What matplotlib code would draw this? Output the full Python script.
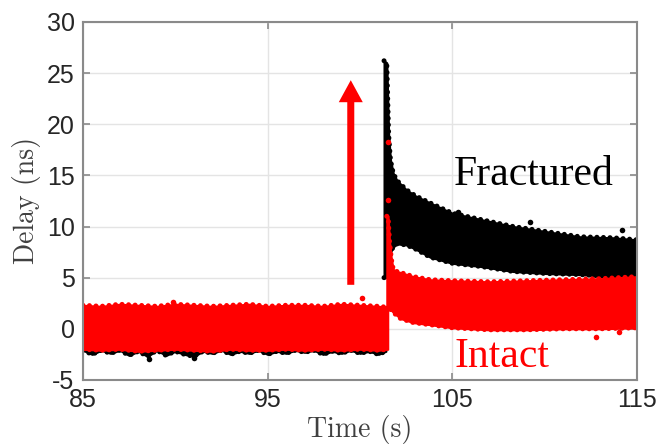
import matplotlib
matplotlib.use("Agg")
import matplotlib.pyplot as plt

# ---- data ----
# before the fracture: both signals are noise bands around 0
t_pre = [85.0, 86, 87, 88, 89, 90, 91, 92, 93, 94, 95, 96, 97, 98, 99, 100, 101, 101.5]
red_pre_hi = [2.3, 2.2, 2.4, 2.3, 2.2, 2.4, 2.3, 2.2, 2.3, 2.4, 2.2, 2.3, 2.3, 2.2, 2.4, 2.3, 2.2, 2.1]
red_pre_lo = [-2.0, -2.1, -2.0, -2.2, -2.1, -2.0, -2.1, -2.2, -2.0, -2.1, -2.1, -2.0, -2.1, -2.0, -2.1, -2.0, -2.1, -2.0]

t_blk_pre = [85.0, 85.5, 86.0, 86.5, 87.0, 87.5, 88.0, 88.5, 89.0, 89.5, 90.0, 90.5, 91.0, 91.5, 92.0,
             92.5, 93.0, 93.5, 94.0, 94.5, 95.0, 95.5, 96.0, 96.5, 97.0, 97.5, 98.0, 98.5, 99.0,
             99.5, 100.0, 100.5, 101.0, 101.4]
blk_pre_hi = [1.9] * 34
blk_pre_lo = [-2.1, -2.5, -2.1, -2.4, -2.1, -2.6, -2.2, -2.7, -2.1, -2.6, -2.2, -2.5, -2.7, -2.2, -2.4,
              -2.1, -2.5, -2.2, -2.4, -2.1, -2.5, -2.2, -2.4, -2.1, -2.3, -2.1, -2.5, -2.2, -2.4,
              -2.1, -2.4, -2.2, -2.5, -2.2]

# fractured (black) after the event
t_blk = [101.30, 101.45, 101.55, 101.65, 101.8, 102.0, 102.5, 103.0, 103.8, 105.0, 106.5, 108.3, 110.1, 111.9, 113.7, 115.0]
blk_hi = [26.2, 26.0, 19.0, 16.5, 15.2, 14.5, 13.6, 13.0, 12.3, 11.3, 10.7, 10.0, 9.5, 9.0, 8.9, 8.7]
blk_lo = [5.0, 5.0, 6.0, 7.5, 8.0, 8.3, 8.2, 7.8, 7.0, 6.4, 6.1, 5.6, 5.4, 5.3, 5.1, 5.1]

# intact (red) after the event
t_red = [101.45, 101.52, 101.6, 101.7, 101.8, 102.0, 102.2, 102.9, 103.8, 105, 107, 109, 111, 113, 115]
red_hi = [11.0, 11.0, 8.5, 6.8, 5.8, 5.6, 5.5, 5.1, 4.8, 4.7, 4.6, 4.7, 4.8, 4.9, 5.1]
red_lo = [2.0, 2.2, 2.0, 1.8, 1.6, 1.3, 1.0, 0.6, 0.4, 0.1, -0.1, -0.1, 0.0, 0.0, 0.1]

# isolated points visible outside the bands
blk_out_t = [88.6, 91.0, 105.3, 109.2, 114.2, 111.1]
blk_out_v = [-3.0, -2.9, 11.4, 10.4, 9.7, 4.5]
red_out_t = [101.5, 101.5, 89.9, 100.1, 112.8, 114.0]
red_out_v = [18.3, 12.6, 2.6, 3.0, -0.8, -0.3]

xticks = [85, 95, 105, 115]
yticks = [-5, 0, 5, 10, 15, 20, 25, 30]

# ---- figure ----
fig = plt.figure(figsize=(6.63, 4.47), dpi=100)
ax = fig.add_axes([0.125, 0.150, 0.836, 0.801])

BLACK = "#000000"
RED = "#ff0000"
DOTS = dict(ls=(0, (0.01, 1.3)), lw=3.6, dash_capstyle="round")


def band(t, lo, hi, color, z):
    ax.fill_between(t, lo, hi, color=color, lw=1.5, zorder=z)
    ax.plot(t, hi, color=color, zorder=z, **DOTS)
    ax.plot(t, lo, color=color, zorder=z, **DOTS)


band(t_blk_pre, blk_pre_lo, blk_pre_hi, BLACK, 2)
band(t_blk, blk_lo, blk_hi, BLACK, 2)
ax.scatter(blk_out_t, blk_out_v, s=16, color=BLACK, zorder=2, linewidths=0)

band(t_pre, red_pre_lo, red_pre_hi, RED, 3)
band(t_red, red_lo, red_hi, RED, 3)
ax.scatter(red_out_t, red_out_v, s=16, color=RED, zorder=3, linewidths=0)

# arrow
ax.arrow(99.5, 4.3, 0, 20.0, width=0.38, head_width=1.3, head_length=2.15,
         length_includes_head=True, color=RED, lw=0, zorder=4)

# annotations
ax.text(105.1, 14.1, "Fractured", family="Liberation Serif", fontsize=30,
        color=BLACK, ha="left", va="baseline", zorder=5)
ax.text(105.1, -3.7, "Intact", family="Liberation Serif", fontsize=30,
        color=RED, ha="left", va="baseline", zorder=5)

ax.set_xlim(85, 115)
ax.set_ylim(-5, 30)
ax.set_xticks(xticks)
ax.set_yticks(yticks)
ax.set_xticklabels([str(v) for v in xticks], family="Liberation Sans", fontsize=18, color="#262626")
ax.set_yticklabels([str(v) for v in yticks], family="Liberation Sans", fontsize=18, color="#262626")

ax.grid(True, color="#e4e4e4", lw=1.0, zorder=0)
ax.set_axisbelow(True)
for s in ax.spines.values():
    s.set_color("#8a8a8a")
    s.set_linewidth(1.5)
    s.set_zorder(6)
ax.tick_params(direction="in", length=5, width=1.2, color="#8a8a8a",
               top=True, right=True, pad=6)

ax.set_xlabel("Time (s)", family="cmr10", fontsize=20, color="#404040", labelpad=2)
ax.set_ylabel("Delay (ns)", family="cmr10", fontsize=20, color="#404040", labelpad=4)

fig.savefig("out.png", dpi=100, facecolor="white")
